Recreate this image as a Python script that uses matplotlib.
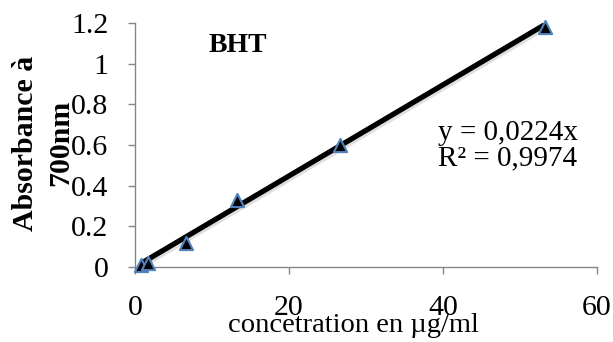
import matplotlib
matplotlib.use("Agg")
import matplotlib.pyplot as plt
import matplotlib.patheffects as pe
import numpy as np

# BHT standard curve: reducing power vs concentration
concentration = [0.83, 1.66, 6.65, 13.3, 26.6, 53.2]
absorbance = [0.01, 0.02, 0.12, 0.33, 0.60, 1.18]
slope = 0.0224
r_squared = 0.9974
x_ticks = [0, 20, 40, 60]
y_ticks = [0, 0.2, 0.4, 0.6, 0.8, 1.0, 1.2]
y_tick_labels = ["0", "0.2", "0.4", "0.6", "0.8", "1", "1.2"]

plt.rcParams["font.family"] = ["Liberation Serif", "DejaVu Serif"]
FS = 21.5

fig = plt.figure(figsize=(6.13, 3.42), dpi=100)
ax = fig.add_axes([135 / 613, 1 - 267 / 342, (597 - 135) / 613, (267 - 23) / 342])

grey = "#868686"
for side in ("top", "right"):
    ax.spines[side].set_visible(False)
for side in ("left", "bottom"):
    ax.spines[side].set_color(grey)
    ax.spines[side].set_linewidth(1.0)

# linear trendline through origin
xs = np.array([min(concentration), max(concentration)])
ax.plot(xs, slope * xs, color="black", lw=3.8, solid_capstyle="butt", zorder=2,
        path_effects=[pe.SimpleLineShadow(offset=(1.5, -1.5), alpha=0.25, shadow_color="grey"),
                      pe.Normal()])

ax.scatter(concentration, absorbance, marker="^", s=90, facecolor="black",
           edgecolor="#4F81BD", linewidth=1.5, zorder=3, clip_on=False)

ax.set_xlim(0, 60)
ax.set_ylim(0, 1.2)
ax.set_xticks(x_ticks)
ax.set_yticks(y_ticks)
ax.set_yticklabels(y_tick_labels)
ax.tick_params(axis="both", direction="out", color=grey, length=5, width=1.0,
               labelsize=FS)
ax.tick_params(axis="y", pad=14)
ax.tick_params(axis="x", pad=15)

ax.text(238 / 613, 1 - 45 / 342, "BHT", transform=fig.transFigure, fontsize=FS - 1.5,
        fontweight="bold", ha="center", va="center")
ax.text(438 / 613, 1 - 146 / 342, "y = 0,0224x\nR² = 0,9974", transform=fig.transFigure,
        fontsize=FS - 0.5, ha="left", va="center", linespacing=0.95)

fig.text(353 / 613, 1 - 326 / 342, "concetration en µg/ml", fontsize=FS - 1,
         ha="center", va="center")
fig.text(43 / 613, 1 - 143 / 342, "Absorbance à\n700nm", fontsize=FS, fontweight="bold",
         rotation=90, ha="center", va="center", linespacing=1.4)

fig.savefig("out.png", dpi=100)
